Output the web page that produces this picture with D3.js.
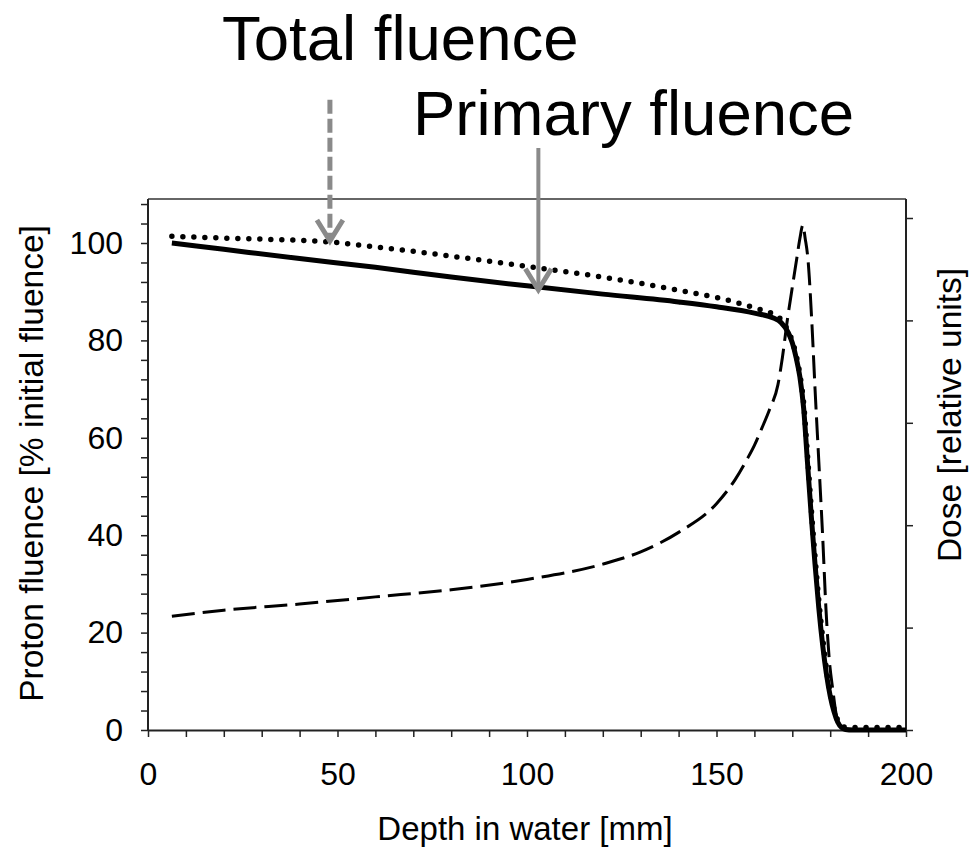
<!DOCTYPE html>
<html>
<head>
<meta charset="utf-8">
<script src="https://cdn.jsdelivr.net/npm/d3@7"></script>
<style>
  html, body { margin: 0; padding: 0; background: #fff; }
  svg { display: block; font-family: "Liberation Sans", Arial, sans-serif; }
</style>
</head>
<body>
<svg id="chart" width="970" height="850"></svg>
<script>
// ---------- DATA ----------
// Depth in water [mm]
const primaryDepth = [6.3, 20, 40, 60, 80, 100, 120, 140, 150, 160, 165, 167, 169, 170, 171, 172, 173, 174, 175, 176, 177, 178, 179, 180, 181, 182, 183, 184, 186, 200];
const primaryFluence = [100, 98.7, 96.8, 95.0, 93.0, 91.2, 89.5, 87.9, 86.9, 85.6, 84.6, 83.7, 81.5, 79.5, 76.5, 72.5, 66, 55, 44, 34, 25, 17.5, 11.5, 7, 3.8, 1.6, 0.5, 0.1, 0, 0];

const totalDepth = [6.3, 20, 30, 48, 60, 80, 100, 120, 140, 150, 160, 165.4, 167, 168, 169, 170, 171, 172, 173, 174, 175, 176, 177, 178, 179, 180, 181, 182, 183, 184, 190, 200];
const totalFluence = [101.4, 101.0, 100.8, 100.2, 99.2, 97.3, 95.2, 93.0, 90.3, 88.8, 86.7, 85.2, 84.3, 83.2, 81.8, 79.8, 77, 73, 67, 56.5, 45.5, 35.5, 26.5, 19, 12.5, 7.8, 4.3, 2, 0.9, 0.6, 0.5, 0.5];

const doseDepth = [6.3, 20, 40, 60, 80, 100, 120, 130, 140, 150, 155, 158, 160, 162, 164, 166.2, 167.4, 168.6, 169.9, 171.2, 172, 172.8, 173.4, 174.1, 175.2, 176, 177, 178, 178.9, 179.8, 180.7, 181.5, 182.5, 184, 186, 200];
const doseValue = [1.11, 1.17, 1.23, 1.30, 1.37, 1.47, 1.62, 1.74, 1.93, 2.21, 2.45, 2.64, 2.78, 2.95, 3.13, 3.37, 3.64, 3.98, 4.30, 4.61, 4.80, 4.93, 4.80, 4.61, 3.95, 3.33, 2.62, 1.90, 1.17, 0.67, 0.39, 0.17, 0.05, 0.01, 0, 0];

const xTicksMajor = [0, 50, 100, 150, 200];
const yTicksMajor = [0, 20, 40, 60, 80, 100];
const yRightTicks = [0, 1, 2, 3, 4, 5];

const xTitle = "Depth in water [mm]";
const yTitle = "Proton fluence [% initial fluence]";
const yRightTitle = "Dose [relative units]";

// annotation arrows: depth [mm], tip (fluence %), top (fluence % units, above frame)
const annoLabels = ["Total fluence", "Primary fluence"];
const annoDepth = [48, 103];
const annoTip = [100.4, 90.4];
const annoTop = [129.4, 119.5];

// ---------- LAYOUT ----------
const svg = d3.select("#chart");
const L = 148, R = 906, T = 199, B = 730;

const x = d3.scaleLinear().domain([0, 200]).range([L, R]);
const y = d3.scaleLinear().domain([0, (B - T) / 4.87]).range([B, T]);
const yR = d3.scaleLinear().domain([0, (B - T) / 102.4]).range([B, T]);

const axisColor = "#222";
const fontSize = 32;

// top frame line
svg.append("line")
  .attr("x1", L).attr("x2", R).attr("y1", T).attr("y2", T)
  .attr("stroke", "#333").attr("stroke-width", 1.5);

// left axis
const gL = svg.append("g").attr("transform", `translate(${L},0)`)
  .call(d3.axisLeft(y)
    .tickValues(d3.range(0, 109, 4))
    .tickFormat(d => yTicksMajor.includes(d) ? d : "")
    .tickSize(7).tickSizeOuter(0).tickPadding(18));

// bottom axis
const gB = svg.append("g").attr("transform", `translate(0,${B})`)
  .call(d3.axisBottom(x)
    .tickValues(d3.range(0, 201, 10))
    .tickFormat(d => xTicksMajor.includes(d) ? d : "")
    .tickSize(7).tickSizeOuter(0).tickPadding(25));

// right axis
const gR = svg.append("g").attr("transform", `translate(${R},0)`)
  .call(d3.axisRight(yR)
    .tickValues(yRightTicks)
    .tickFormat("")
    .tickSize(7).tickSizeOuter(0));

[gL, gB, gR].forEach(g => {
  g.attr("font-family", null).attr("font-size", null);
  g.select(".domain").attr("stroke", axisColor).attr("stroke-width", 2);
  g.selectAll(".tick line").attr("stroke", axisColor).attr("stroke-width", 1.5);
  g.selectAll(".tick text")
    .attr("fill", "#000")
    .style("font-family", '"Liberation Sans", Arial, sans-serif')
    .style("font-size", fontSize + "px");
});
gL.select(".domain").attr("d", `M0,${B}V${T}`);
gR.select(".domain").attr("d", `M0,${B}V${T}`);

// axis titles
svg.append("text")
  .attr("x", (L + R) / 2 - 2).attr("y", 840)
  .attr("text-anchor", "middle")
  .style("font-size", "33px")
  .text(xTitle);

svg.append("text")
  .attr("transform", `translate(43,${(T + B) / 2 - 1}) rotate(-90)`)
  .attr("text-anchor", "middle")
  .style("font-size", "33.5px")
  .text(yTitle);

svg.append("text")
  .attr("transform", `translate(961,${415}) rotate(-90)`)
  .attr("text-anchor", "middle")
  .style("font-size", "33.5px")
  .text(yRightTitle);

// ---------- CURVES ----------
const lineL = d3.line().x(d => x(d[0])).y(d => y(d[1])).curve(d3.curveMonotoneX);
const lineR = d3.line().x(d => x(d[0])).y(d => yR(d[1])).curve(d3.curveMonotoneX);

const doseData = doseDepth.map((d, i) => [d, doseValue[i]]);
const primaryData = primaryDepth.map((d, i) => [d, primaryFluence[i]]);
const totalData = totalDepth.map((d, i) => [d, totalFluence[i]]);

svg.append("path")
  .attr("d", lineR(doseData))
  .attr("fill", "none").attr("stroke", "#000")
  .attr("stroke-width", 3)
  .attr("stroke-dasharray", "23,8");

svg.append("path")
  .attr("d", lineL(totalData))
  .attr("fill", "none").attr("stroke", "#000")
  .attr("stroke-width", 5.5)
  .attr("stroke-linecap", "round")
  .attr("stroke-dasharray", "0,11");

svg.append("path")
  .attr("d", lineL(primaryData))
  .attr("fill", "none").attr("stroke", "#000")
  .attr("stroke-width", 5)
  .attr("stroke-linejoin", "round");

// ---------- ANNOTATIONS ----------
const arrowColor = "#8a8a8a";
annoDepth.forEach((dp, i) => {
  const ax = x(dp), tipY = y(annoTip[i]), topY = y(annoTop[i]);
  svg.append("line")
    .attr("x1", ax).attr("x2", ax)
    .attr("y1", topY).attr("y2", tipY - 2)
    .attr("stroke", arrowColor)
    .attr("stroke-width", i === 0 ? 5 : 4)
    .attr("stroke-dasharray", i === 0 ? "14,5" : null);
  svg.append("path")
    .attr("d", `M${ax - 13},${tipY - 21}L${ax},${tipY}L${ax + 13},${tipY - 21}`)
    .attr("fill", "none")
    .attr("stroke", arrowColor)
    .attr("stroke-width", 5)
    .attr("stroke-linejoin", "miter");
});

svg.append("text")
  .attr("x", 222).attr("y", 60)
  .style("font-size", "63.5px")
  .text(annoLabels[0]);

svg.append("text")
  .attr("x", 413).attr("y", 135)
  .style("font-size", "63.5px")
  .text(annoLabels[1]);
</script>
</body>
</html>
